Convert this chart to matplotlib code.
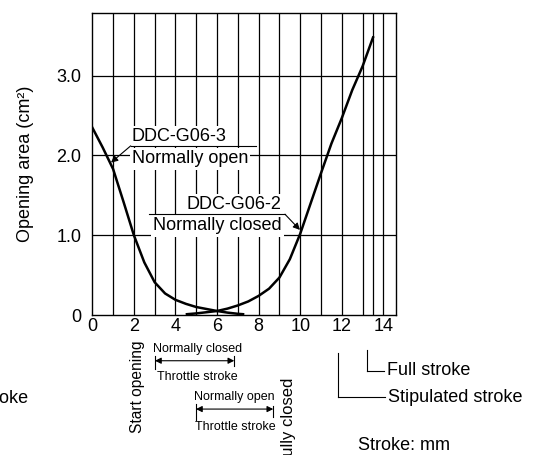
import matplotlib
matplotlib.use('Agg')
import matplotlib.pyplot as plt
from matplotlib.lines import Line2D

plt.rcParams['font.family'] = ['Liberation Sans', 'DejaVu Sans']

# Normally open curve (DDC-G06-3)
no_x = [0, 0.5, 1, 1.5, 2, 2.5, 3, 3.5, 4, 4.5, 5, 5.5, 6, 6.5, 7, 7.25]
no_y = [2.35, 2.1, 1.83, 1.42, 1.0, 0.66, 0.41, 0.27, 0.19, 0.14, 0.1, 0.075, 0.05, 0.03, 0.015, 0.01]

# Normally closed curve (DDC-G06-2)
nc_x = [4.55, 5, 5.5, 6, 6.5, 7, 7.5, 8, 8.5, 9, 9.5, 10, 10.5, 11, 11.5, 12, 12.5, 13, 13.5]
nc_y = [0.01, 0.02, 0.035, 0.05, 0.08, 0.12, 0.17, 0.24, 0.33, 0.47, 0.7, 1.02, 1.4, 1.78, 2.15, 2.47, 2.82, 3.12, 3.48]

x_grid = [1, 2, 3, 4, 5, 6, 7, 8, 9, 10, 11, 12, 13, 13.5, 14]
y_grid = [1, 2, 3]
x_ticks = [0, 2, 4, 6, 8, 10, 12, 14]
y_ticks = [0, 1, 2, 3]
y_ticklabels = ['0', '1.0', '2.0', '3.0']

W, H = 534, 455
fig = plt.figure(figsize=(W / 100, H / 100), dpi=100)
ax = fig.add_axes([92.3 / W, 140 / H, 303.4 / W, 302.3 / H])
ax.set_xlim(0, 14.59)
ax.set_ylim(0, 3.79)


# pixel -> data helpers for placing annotations
def dx(px):
    return (px - 92.3) / 20.8


def dy(py):
    return (315 - py) / 79.7


for g in x_grid:
    ax.axvline(g, color='k', lw=0.9, zorder=1)
for g in y_grid:
    ax.axhline(g, color='k', lw=0.9, zorder=1)

ax.plot(no_x, no_y, color='k', lw=1.8, zorder=3)
ax.plot(nc_x, nc_y, color='k', lw=1.8, zorder=3)

ax.set_xticks(x_ticks)
ax.set_yticks(y_ticks)
ax.set_yticklabels(y_ticklabels)
ax.tick_params(length=0, labelsize=13, pad=2)
ax.tick_params(axis='y', pad=8)
for s in ax.spines.values():
    s.set_linewidth(1.0)
ax.set_ylabel('Opening area (cm²)', fontsize=13, labelpad=16)

box = dict(facecolor='white', edgecolor='none', pad=1.5)
fs = 13

# label DDC-G06-3
ax.text(dx(131.7), dy(136.7), 'DDC-G06-3', fontsize=fs, va='center', ha='left', bbox=box, zorder=2)
ax.text(dx(131.7), dy(159), 'Normally open', fontsize=fs, va='center', ha='left', bbox=box, zorder=2)
ax.plot([dx(130.7), dx(256)], [dy(146), dy(146)], color='k', lw=0.8, zorder=2)
ax.annotate('', xy=(dx(111), dy(162.7)), xytext=(dx(130.7), dy(146)),
            arrowprops=dict(arrowstyle='-|>', color='k', lw=0.8, mutation_scale=10, shrinkA=0, shrinkB=0))

# label DDC-G06-2
ax.text(dx(281.7), dy(205), 'DDC-G06-2', fontsize=fs, va='center', ha='right', bbox=box, zorder=2)
ax.text(dx(281.7), dy(226), 'Normally closed', fontsize=fs, va='center', ha='right', bbox=box, zorder=2)
ax.plot([dx(149), dx(285)], [dy(214.3), dy(214.3)], color='k', lw=0.8, zorder=2)
ax.annotate('', xy=(dx(300), dy(230)), xytext=(dx(285), dy(214.3)),
            arrowprops=dict(arrowstyle='-|>', color='k', lw=0.8, mutation_scale=10, shrinkA=0, shrinkB=0))

# annotations below the axes
small = 9


def seg(x0, y0, x1, y1):
    ax.add_line(Line2D([dx(x0), dx(x1)], [dy(y0), dy(y1)], color='k', lw=0.8, clip_on=False))


def dbl(x0, x1, y):
    ax.annotate('', xy=(dx(x1), dy(y)), xytext=(dx(x0), dy(y)), annotation_clip=False,
                arrowprops=dict(arrowstyle='<|-|>', color='k', lw=0.8, mutation_scale=9, shrinkA=0, shrinkB=0))


ax.text(dx(138), dy(433), 'Start opening', fontsize=11.2, rotation=90, ha='center', va='bottom', clip_on=False)

ax.text(dx(153), dy(349), 'Normally closed', fontsize=small, ha='left', va='center', clip_on=False)
seg(155, 356, 155, 369)
seg(234.3, 356, 234.3, 366)
dbl(155, 234.3, 360.7)
ax.text(dx(157), dy(377), 'Throttle stroke', fontsize=small, ha='left', va='center', clip_on=False)

ax.text(dx(194), dy(396.7), 'Normally open', fontsize=small, ha='left', va='center', clip_on=False)
seg(196, 404, 196, 420)
seg(273.3, 406, 273.3, 417)
dbl(196, 273.3, 409)
ax.text(dx(195), dy(426.7), 'Throttle stroke', fontsize=small, ha='left', va='center', clip_on=False)

ax.text(dx(288.3), dy(378), 'Fully closed', fontsize=12, rotation=90, ha='center', va='top', clip_on=False)

ax.text(dx(28), dy(398), 'Stroke', fontsize=fs, ha='right', va='center', clip_on=False)

seg(366.7, 350, 366.7, 370.7)
seg(366.7, 370.7, 384, 370.7)
ax.text(dx(387), dy(370.7), 'Full stroke', fontsize=fs, ha='left', va='center', clip_on=False)

seg(337.7, 353, 337.7, 397.3)
seg(337.7, 397.3, 385, 397.3)
ax.text(dx(388), dy(397.3), 'Stipulated stroke', fontsize=fs, ha='left', va='center', clip_on=False)

ax.text(dx(358), dy(445), 'Stroke: mm', fontsize=fs, ha='left', va='center', clip_on=False)

fig.savefig('out.png', dpi=100)
